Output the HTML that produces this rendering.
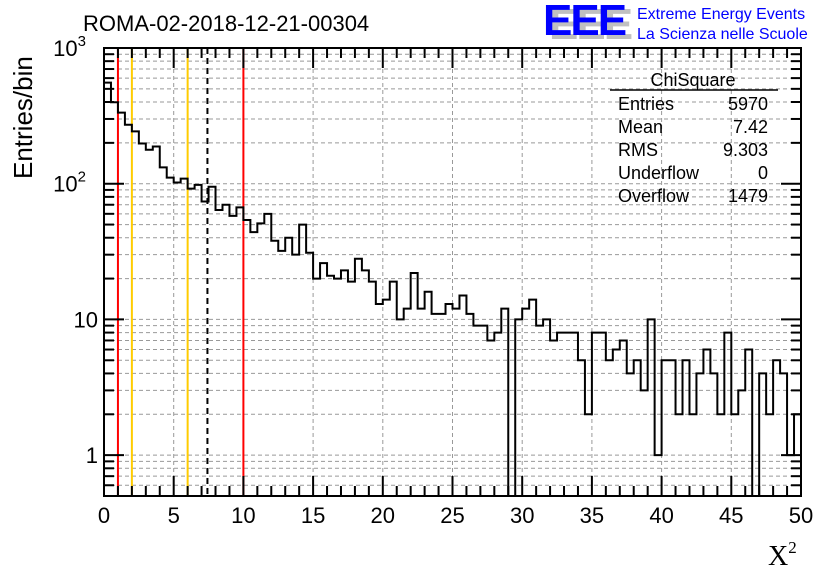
<!DOCTYPE html>
<html><head><meta charset="utf-8"><style>
body{margin:0;background:#fff;}
svg{display:block;font-family:"Liberation Sans",sans-serif;}
</style></head><body>
<svg id="chart" width="836" height="572" viewBox="0 0 836 572" xmlns="http://www.w3.org/2000/svg">
<rect width="836" height="572" fill="#fff"/>
<g id="grid"></g>
<g id="lines"></g>
<path id="hist" fill="none" stroke="#000" stroke-width="2"/>
<g id="axes"></g>
<text x="83" y="31" font-size="22">ROMA-02-2018-12-21-00304</text>
<g>
<text x="549" y="39" font-size="44" font-weight="bold" fill="#c0c0c0" letter-spacing="-2">EEE</text>
<text x="543" y="35" font-size="44" font-weight="bold" fill="#0000ff" letter-spacing="-2">EEE</text>
<text x="637" y="19" font-size="16" fill="#0000ff">Extreme Energy Events</text>
<text x="637" y="39" font-size="16" fill="#0000ff">La Scienza nelle Scuole</text>
</g>
<g font-size="18">
<text x="693" y="86" text-anchor="middle">ChiSquare</text>
<line x1="610" y1="90" x2="778" y2="90" stroke="#000" stroke-width="1.5"/>
<text x="618" y="110">Entries</text><text x="768" y="110" text-anchor="end">5970</text>
<text x="618" y="133">Mean</text><text x="768" y="133" text-anchor="end">7.42</text>
<text x="618" y="156">RMS</text><text x="768" y="156" text-anchor="end">9.303</text>
<text x="618" y="179">Underflow</text><text x="768" y="179" text-anchor="end">0</text>
<text x="618" y="202">Overflow</text><text x="768" y="202" text-anchor="end">1479</text>
</g>
<text transform="translate(32,179) rotate(-90)" font-size="26" text-anchor="start" x="0" y="0">Entries/bin</text>
<text x="768" y="565" font-size="28" font-family="Liberation Serif, serif">X<tspan font-size="17" dy="-12">2</tspan></text>
</svg>
<script>
const counts=[556,398,334,272,243,198,178,188,132,111,102,109,92,98,74,95,64,70,58,67,54,44,51,60,38,32,40,30,50,31,20,26,21,20,23,19,28,23,19,13,14,19,10,12,22,12,16,11,11,13,12,15,11,9,9,7,8,12,0,10,12,14,9,10,7,8,8,8,5,2,8,8,5,6,7,4,5,3,10,1,5,5,2,5,2,4,6,4,2,8,2,3,6,0,4,2,5,4,1,2];
const xTicks=[0,5,10,15,20,25,30,35,40,45,50];
const redLines=[1,10];
const yellowLines=[2,6];
const meanLine=[7.42];
const X0=104,X1=801,Y0=496,Y1=48,xMin=0,xMax=50,yMin=0.5,yMax=1000,binW=0.5;
const ns='http://www.w3.org/2000/svg';
const sx=v=>X0+(v-xMin)/(xMax-xMin)*(X1-X0);
const sy=v=>Y0-(Math.log10(v)-Math.log10(yMin))/(Math.log10(yMax)-Math.log10(yMin))*(Y0-Y1);
function mk(tag,attrs,parent){const e=document.createElementNS(ns,tag);for(const k in attrs)e.setAttribute(k,attrs[k]);parent.appendChild(e);return e;}
const grid=document.getElementById('grid'),axes=document.getElementById('axes'),lines=document.getElementById('lines');
for(let d=-1;d<3;d++)for(let m=1;m<10;m++){const v=m*Math.pow(10,d);if(v<yMin||v>yMax)continue;const y=sy(v);
 const g=mk('line',{x1:X0,x2:X1,y1:y,y2:y,stroke:'#999','stroke-width':1,'stroke-dasharray':'4,3'},grid);
 
 const L=m===1?20:10;
 const t1=mk('line',{x1:X0,x2:X0+L,y1:y,y2:y,stroke:'#000','stroke-width':2},axes);
 
 const t2=mk('line',{x1:X1-L,x2:X1,y1:y,y2:y,stroke:'#000','stroke-width':2},axes);
 }
xTicks.forEach(v=>{const x=sx(v);if(v>0&&v<50){const g=mk('line',{x1:x,x2:x,y1:Y1,y2:Y0,stroke:'#999','stroke-width':1,'stroke-dasharray':'4,3'},grid);
 }
 const t=mk('text',{x:x,y:523,'font-size':22,'text-anchor':'middle'},axes);t.textContent=v;
 });
for(let v=0;v<=50;v++){const x=sx(v);const L=v%5===0?20:10;
 const a=mk('line',{x1:x,x2:x,y1:Y0,y2:Y0-L,stroke:'#000','stroke-width':2},axes);
 
 const b=mk('line',{x1:x,x2:x,y1:Y1,y2:Y1+L,stroke:'#000','stroke-width':2},axes);
 }
[[1000,'10','3'],[100,'10','2'],[10,'10',''],[1,'1','']].forEach(([v,b,e])=>{
 const t=mk('text',{x:e?86:98,y:sy(v)+8,'font-size':22,'text-anchor':'end'},axes);t.textContent=b;
 
 if(e){const s=mk('tspan',{'font-size':15,dy:-10},t);s.textContent=e;}});
const frame=mk('rect',{x:X0,y:Y1,width:X1-X0,height:Y0-Y1,fill:'none',stroke:'#000','stroke-width':2},axes);

function vline(v,col,dash,name){const x=sx(v);const l=mk('line',{x1:x,x2:x,y1:Y1,y2:Y0,stroke:col,'stroke-width':2},lines);
 if(dash)l.setAttribute('stroke-dasharray',dash);}
redLines.forEach(v=>vline(v,'#ff0000',null,'red-threshold-line'));
yellowLines.forEach(v=>vline(v,'#ffcc00',null,'yellow-threshold-line'));
meanLine.forEach(v=>vline(v,'#000',"6,4",'mean-line'));
const cy=c=>c>0?Math.max(Y1,Math.min(Y0,sy(c))):Y0;
let d='M'+sx(0)+','+Y0;
counts.forEach((c,i)=>{const y=cy(c);d+=' L'+sx(i*binW)+','+y+' L'+sx((i+1)*binW)+','+y;});
d+=' L'+sx(counts.length*binW)+','+Y0;
document.getElementById('hist').setAttribute('d',d);
</script>
</body></html>
